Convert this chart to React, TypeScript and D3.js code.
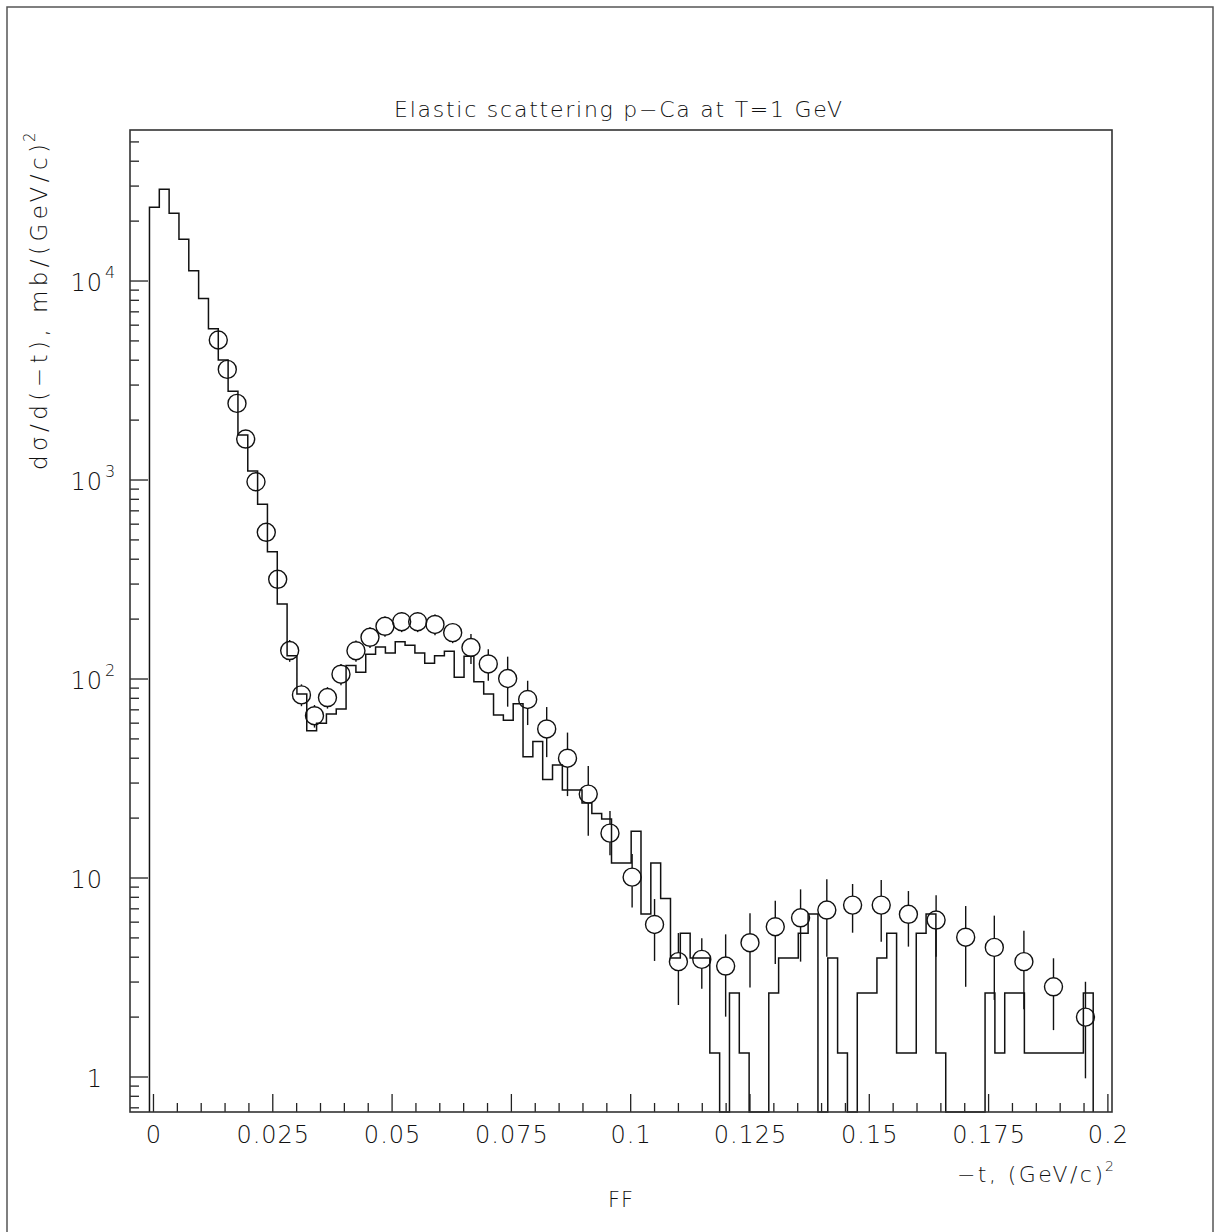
import React from "react";
import * as d3 from "d3";

// ---------- data ----------
const TITLE = "Elastic scattering p\u2212Ca at T=1 GeV";
const X_TITLE = "\u2212t, (GeV/c)";
const Y_TITLE = "d\u03c3/d(\u2212t), mb/(GeV/c)";
const SUPER = "2";
const BOTTOM_LABEL = "FF";

// histogram (simulation) : first bin low edge and bin width in -t units
const HIST_T0 = -0.00084;
const HIST_DT = 0.00206;
const histValues = [
  23460, 28900, 21900, 16200, 11270, 8180, 5750, 4010, 2790, 1683,
  1110, 755, 436, 238, 131, 84, 55, 60, 66.7, 70.7,
  117, 108, 133, 145, 135, 154, 148, 135, 120, 131,
  138, 102, 130, 97, 84, 66, 62, 75, 40.7, 48.5,
  31.3, 37, 27.7, 27.7, 23.8, 21.1, 19.8, 11.9, 11.9, 17.2,
  6.6, 11.9, 7.9, 3.96, 5.28, 3.96, 3.96, 1.32, 0, 2.64,
  1.32, 0, 0, 2.64, 3.96, 3.96, 5.28, 6.6, 0, 3.96,
  1.32, 0, 2.64, 2.64, 3.96, 5.28, 1.32, 1.32, 5.28, 6.6,
  1.32, 0, 0, 0, 0, 2.64, 1.32, 2.64, 2.64, 1.32,
  1.32, 1.32, 1.32, 1.32, 1.32, 2.64,
];

// experimental points
const dataT = [
  0.01358, 0.01547, 0.0175, 0.01932, 0.02148, 0.02364, 0.02603, 0.02854, 0.03101, 0.03374,
  0.03646, 0.03929, 0.04243, 0.04537, 0.04851, 0.05201, 0.05536, 0.05899, 0.0627, 0.06653,
  0.07016, 0.07422, 0.07841, 0.0824, 0.08676, 0.09111, 0.09566, 0.1003, 0.105, 0.11,
  0.1149, 0.1199, 0.125, 0.1303, 0.1356, 0.1411, 0.1465, 0.1525, 0.1582, 0.164,
  0.1702, 0.1762, 0.1824, 0.1886, 0.1953,
];
const dataV = [
  5054, 3597, 2427, 1607, 980, 546, 317, 139, 83.2, 65.4,
  80.7, 105.7, 138.7, 162, 184, 194, 194, 188, 171, 144,
  119, 100.6, 78.9, 56.1, 40, 26.4, 16.8, 10.1, 5.84, 3.8,
  3.9, 3.61, 4.73, 5.69, 6.31, 6.9, 7.31, 7.31, 6.57, 6.15,
  5.04, 4.48, 3.8, 2.84, 2.0,
];
const dataHi = [
  5460, 3880, 2620, 1740, 1060, 590, 345, 157, 94, 74,
  91, 119, 156, 182, 206, 217, 217, 211, 190.5, 168.3,
  141, 129.5, 98, 72.3, 53.8, 36.5, 21.7, 13.2, 7.84, 5.29,
  4.98, 5.21, 6.65, 7.69, 8.77, 9.85, 9.33, 9.77, 8.6, 8.2,
  7.23, 6.47, 5.43, 3.95, 3.01,
];
const dataLo = [
  4650, 3310, 2230, 1480, 900, 502, 290, 122, 73, 57,
  71, 93, 122, 143, 163, 172, 172, 166, 151.4, 118.9,
  98, 72.6, 58.7, 40.5, 25.8, 16.3, 13.0, 7.1, 3.83, 2.3,
  2.78, 2.01, 2.82, 3.7, 3.8, 4.02, 5.31, 4.78, 4.52, 4.02,
  2.84, 2.44, 2.19, 1.72, 0.985,
];

// axes
const X_DOMAIN = [-0.00492, 0.20086];
const Y_DOMAIN = [0.667, 57400];
const xMajorTicks = [0, 0.025, 0.05, 0.075, 0.1, 0.125, 0.15, 0.175, 0.2];
const xTickLabels = ["0", "0.025", "0.05", "0.075", "0.1", "0.125", "0.15", "0.175", "0.2"];
const X_MINOR_STEP = 0.005;
const yMajorTicks = [1, 10, 100, 1000, 10000];
const yTickBase = ["1", "10", "10", "10", "10"];
const yTickExp = ["", "", "2", "3", "4"];

// ---------- layout ----------
const W = 1220;
const H = 1232;
const L = 130, T = 130, R = 1112, B = 1112;
const FONT = "'DejaVu Sans', 'Liberation Sans', sans-serif";
const FW = 200;
const INK = "#111";

export default function App() {
  const x = d3.scaleLinear().domain(X_DOMAIN).range([L, R]);
  const y = d3.scaleLog().domain(Y_DOMAIN).range([B, T]);
  const yc = (v: number) => (v > 0 ? Math.max(T, Math.min(B, y(v))) : B);

  // histogram outline
  const pts: [number, number][] = [];
  pts.push([x(HIST_T0), B]);
  histValues.forEach((v, i) => {
    const x0 = x(HIST_T0 + i * HIST_DT);
    const x1 = x(HIST_T0 + (i + 1) * HIST_DT);
    pts.push([x0, yc(v)]);
    pts.push([x1, yc(v)]);
  });
  pts.push([x(HIST_T0 + histValues.length * HIST_DT), B]);
  const histPath = d3.line()(pts) || "";

  // minor x ticks
  const xMinor = d3.range(0, 0.2 + 1e-9, X_MINOR_STEP).filter(
    (t) => !xMajorTicks.some((m) => Math.abs(m - t) < 1e-9)
  );
  // minor y ticks
  const yMinor: number[] = [];
  for (let e = -1; e <= 4; e++) {
    for (let m = 2; m <= 9; m++) {
      const v = m * Math.pow(10, e);
      if (v >= Y_DOMAIN[0] && v <= Y_DOMAIN[1]) yMinor.push(v);
    }
  }

  const R_MARK = 9;

  return (
    <svg
      width={W}
      height={H}
      style={{ position: "absolute", left: 0, top: 0, background: "#fff" }}
      fontFamily={FONT}
      fontWeight={FW}
    >
      <rect x={0} y={0} width={W} height={H} fill="#fff" />
      {/* outer border */}
      <rect x={7} y={7} width={1206} height={1240} fill="none" stroke="#555" strokeWidth={1.5} />

      {/* title */}
      <text x={394} y={117} fontSize={22} fill={INK} textLength={448} lengthAdjust="spacing">
        {TITLE}
      </text>

      {/* ticks */}
      <g stroke="#222" strokeWidth={1.3}>
        {xMajorTicks.map((t, i) => (
          <line key={"xM" + i} x1={x(t)} x2={x(t)} y1={B} y2={B - 18} />
        ))}
        {xMinor.map((t, i) => (
          <line key={"xm" + i} x1={x(t)} x2={x(t)} y1={B} y2={B - 9} />
        ))}
        {yMajorTicks.map((v, i) => (
          <line key={"yM" + i} x1={L} x2={L + 18} y1={y(v)} y2={y(v)} />
        ))}
        {yMinor.map((v, i) => (
          <line key={"ym" + i} x1={L} x2={L + 9} y1={y(v)} y2={y(v)} />
        ))}
      </g>

      {/* histogram */}
      <path d={histPath} fill="none" stroke="#111" strokeWidth={1.5} />

      {/* data points */}
      <g stroke="#111" strokeWidth={1.4} fill="none">
        {dataT.map((t, i) => {
          const cx = x(t);
          const cy = y(dataV[i]);
          const yh = y(dataHi[i]);
          const yl = yc(dataLo[i]);
          return (
            <g key={"p" + i}>
              {cy - yh > R_MARK && <line x1={cx} x2={cx} y1={cy - R_MARK} y2={yh} />}
              {yl - cy > R_MARK && <line x1={cx} x2={cx} y1={cy + R_MARK} y2={yl} />}
              <circle cx={cx} cy={cy} r={R_MARK} />
            </g>
          );
        })}
      </g>

      {/* frame */}
      <rect x={L} y={T} width={R - L} height={B - T} fill="none" stroke="#333" strokeWidth={1.6} />

      {/* x tick labels */}
      <g fontSize={24} fill={INK} letterSpacing={1}>
        {xMajorTicks.map((t, i) => (
          <text key={"xl" + i} x={x(t) + 0.5} y={1143} textAnchor="middle">
            {xTickLabels[i]}
          </text>
        ))}
      </g>

      {/* y tick labels */}
      <g fill={INK}>
        {yMajorTicks.map((v, i) => (
          <g key={"yl" + i}>
            <text x={103} y={y(v) + 9.5} textAnchor="end" fontSize={24} letterSpacing={1}>
              {yTickBase[i]}
            </text>
            {yTickExp[i] && (
              <text x={105} y={y(v) - 3} fontSize={16}>
                {yTickExp[i]}
              </text>
            )}
          </g>
        ))}
      </g>

      {/* x axis title */}
      <text x={957} y={1182} fontSize={22} fill={INK} textLength={146} lengthAdjust="spacing">
        {X_TITLE}
      </text>
      <text x={1105} y={1171} fontSize={14} fill={INK}>{SUPER}</text>

      {/* y axis title */}
      <g transform="translate(47,470) rotate(-90)">
        <text x={0} y={0} fontSize={23} fill={INK} textLength={326} lengthAdjust="spacing">
          {Y_TITLE}
        </text>
        <text x={328} y={-12} fontSize={15} fill={INK}>{SUPER}</text>
      </g>

      {/* bottom label */}
      <text x={621} y={1207} textAnchor="middle" fontSize={21} fill={INK} letterSpacing={1}>
        {BOTTOM_LABEL}
      </text>
    </svg>
  );
}
